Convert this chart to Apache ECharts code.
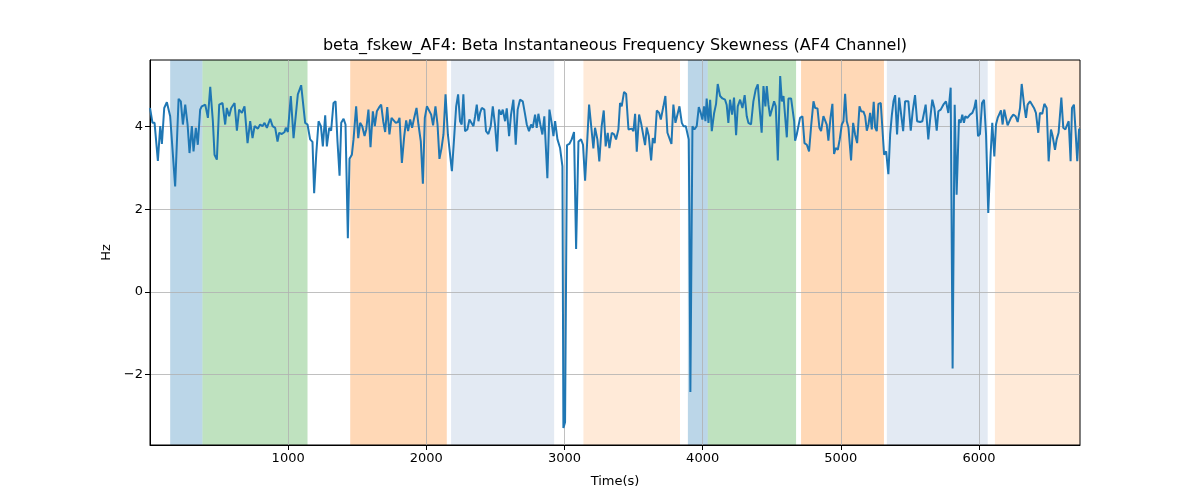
<!DOCTYPE html>
<html>
<head>
<meta charset="utf-8">
<script src="https://cdn.jsdelivr.net/npm/echarts@6/dist/echarts.min.js"></script>
<style>html,body{margin:0;padding:0;background:#fff}#c{width:1200px;height:500px}</style>
</head>
<body>
<div id="c"></div>
<script>
const chartTitle = 'beta_fskew_AF4: Beta Instantaneous Frequency Skewness (AF4 Channel)';
const xLabel = 'Time(s)';
const yLabel = 'Hz';
const xTicks = [1000, 2000, 3000, 4000, 5000, 6000];
const yTicks = [-2, 0, 2, 4];

const timeS = [
  0,18,33,57,74,86,103,122,146,182,
  207,223,238,255,272,286,303,315,332,346,
  363,375,400,419,436,455,467,484,501,525,
  544,556,573,588,612,629,645,665,684,706,
  725,742,757,769,781,797,814,829,846,870,
  887,906,923,935,954,974,983,998,1019,1039,
  1070,1094,
  1123,1140,1159,1176,1188,1203,1220,1237,1251,1268,
  1280,1297,1311,1328,1343,1357,1372,1384,1401,1415,
  1432,1444,1461,1473,1492,1507,1521,1536,1553,1565,
  1581,1596,1613,1627,1642,1659,1673,1688,1702,1717,
  1733,1748,1762,1779,1794,1806,1823,1840,1854,1868,
  1883,1897,1912,1929,1943,1960,1975,1989,2004,2018,
  2035,2049,2066,2081,2095,2110,2124,2139,2156,2170,
  2185,2201,2216,2230,
  2244,2256,2268,2280,2297,2312,2324,2341,2353,2365,
  2377,2389,2401,2420,2432,2449,2466,2481,2497,2512,
  2526,2541,2553,2570,2582,2599,2613,2630,2647,2661,
  2678,2698,2715,2727,2743,2758,2770,2787,2799,2811,
  2825,2840,2854,2876,2891,2907,2920,2932,2949,2968,
  2985,2992,3004,3018,3035,3052,3069,3084,3101,3120,
  3134,3149,3163,3178,3192,3209,3221,3238,3252,3269,
  3284,3298,3313,3325,3342,3359,
  3373,3390,3402,3414,3431,3446,3463,3475,3487,3499,
  3511,3523,3540,3554,3566,3583,3595,3610,3627,3639,
  3653,3668,3685,3697,3716,3730,3745,3759,3774,3788,
  3803,3817,3832,3849,3861,3878,3890,3899,3904,3911,
  3926,3940,3957,3972,3986,3998,4010,4020,4029,4042,
  4054,4066,4083,4097,4109,4126,4143,4162,4174,4186,
  4198,4213,4227,4242,4254,4271,4288,4304,4319,4331,
  4350,4367,4384,4399,4411,4427,4440,4454,4464,
  4476,4488,4500,4517,4529,4544,4561,4573,4585,4597,
  4609,4621,4640,4650,4662,4669,4681,4693,4705,4722,
  4737,4754,4770,4785,4802,4814,4831,4845,4857,4874,
  4886,4898,4910,4925,4939,4951,4963,4978,4992,5007,
  5019,5031,5043,5055,5074,5089,5103,5118,5135,5147,
  5164,5176,5188,5200,5212,5224,5238,5248,5260,5272,
  5289,5301,5313,5328,5344,5357,5369,5381,5393,5407,
  5422,5436,5451,5465,5477,5489,5506,5520,5537,5552,
  5574,5590,5604,
  5614,5633,5645,5662,5677,5694,5706,5723,5742,5761,
  5778,5795,5809,5824,5838,5855,5867,5879,5891,5901,
  5916,5935,5952,5966,5978,5993,6007,6022,6036,6051,
  6067,6084,6096,6111,6123,6135,6147,6159,6171,6183,
  6195,6207,6219,6231,6248,6265,6280,6297,6309,6326,
  6340,6352,6369,6381,6398,6412,6429,6441,6458,6473,
  6490,6504,6521,6533,6550,6562,6576,6596,6610,6625,
  6637,6649,6663,6673,6687,6699,6711,6724,6731
];

const skewHz = [
  4.45,4.09,4.09,3.17,4.01,3.58,4.45,4.59,4.25,2.55,
  4.67,4.61,4.05,4.53,4.05,3.36,4.01,3.40,3.97,3.56,
  4.41,4.49,4.53,4.21,4.96,4.13,3.32,3.20,4.53,4.57,
  4.05,4.45,4.25,4.45,4.57,3.90,4.41,4.33,4.49,3.60,
  4.13,3.72,4.01,4.05,3.95,4.05,4.01,4.09,3.97,4.19,
  4.01,3.97,3.64,3.85,3.82,3.87,3.97,3.87,4.74,3.72,
  4.78,5.00,
  4.09,4.05,3.69,3.63,2.39,3.32,4.13,4.01,3.52,4.27,
  3.52,3.97,3.90,4.57,4.61,3.64,2.81,4.09,4.19,4.05,
  1.30,3.22,3.32,3.69,4.49,3.72,4.09,4.01,3.77,3.93,
  4.41,3.50,4.37,4.01,4.37,4.47,4.53,4.13,3.87,4.47,
  3.81,4.21,4.19,4.09,4.11,4.21,3.12,3.77,4.15,3.89,
  4.17,3.97,4.21,4.45,4.05,3.64,2.62,4.21,4.49,4.47,
  4.29,4.03,4.49,4.05,3.22,3.48,3.81,4.78,3.81,3.82,
  2.92,3.72,4.49,4.78,
  4.13,4.05,4.78,3.89,3.93,4.17,4.13,4.01,4.25,4.53,
  4.13,4.33,4.45,4.41,3.89,3.82,4.01,4.49,4.05,3.40,
  4.41,4.29,4.41,4.13,4.44,3.77,4.29,4.65,3.56,4.41,
  4.65,4.61,4.29,4.05,3.89,4.05,3.97,4.29,3.97,4.31,
  4.05,3.81,4.25,2.75,4.41,4.09,3.77,4.13,3.69,3.48,
  3.04,-3.29,-3.15,3.55,3.58,3.69,3.87,1.04,3.64,3.69,
  3.56,2.69,3.56,4.53,4.53,3.47,3.97,3.69,3.16,4.01,
  4.39,3.52,3.85,3.48,3.85,3.81,
  3.69,3.93,4.57,4.49,4.84,4.79,3.93,3.89,3.95,3.89,
  4.31,3.39,4.29,4.09,4.06,3.55,3.98,3.77,3.18,3.72,
  3.60,4.39,4.33,4.17,4.49,4.74,3.85,3.81,3.58,4.53,
  4.09,4.13,4.49,4.09,4.01,4.01,3.98,3.69,1.87,-2.42,
  4.01,3.93,4.01,4.47,4.33,4.17,4.49,4.13,4.68,4.09,
  4.65,3.89,4.33,4.55,5.03,4.74,4.68,4.65,4.52,4.09,
  4.65,4.29,4.70,3.79,4.49,4.65,4.45,4.76,4.25,4.09,
  4.05,4.61,4.90,5.02,4.49,3.85,4.98,4.49,4.98,
  4.53,4.25,4.29,4.61,4.49,3.18,5.22,4.61,4.74,4.70,
  3.74,4.68,4.68,4.65,4.13,3.66,3.81,3.77,4.21,4.25,
  3.60,3.56,3.40,4.01,4.61,4.45,4.44,3.97,3.89,4.25,
  4.27,4.05,3.66,4.21,4.55,3.34,3.48,3.44,3.69,4.05,
  4.13,4.79,4.13,3.98,3.18,4.09,3.81,3.60,4.49,4.37,
  4.36,4.25,3.90,4.05,4.33,3.93,4.60,3.98,3.89,4.55,
  4.57,4.55,3.32,3.40,2.85,3.81,4.27,4.61,4.76,3.81,
  4.70,4.68,3.89,4.61,4.65,4.61,3.90,4.37,4.76,4.13,
  4.11,4.13,4.12,
  4.53,3.69,4.13,4.65,4.45,3.90,4.37,4.41,4.53,4.61,
  4.33,4.94,-1.85,4.53,2.35,4.17,4.09,4.29,4.09,4.25,
  4.21,4.29,4.33,4.45,4.65,3.77,3.82,4.57,4.65,3.81,
  1.91,3.32,4.09,3.28,4.05,4.21,4.17,4.39,4.05,4.41,
  4.45,4.03,4.05,4.21,4.29,4.25,4.11,4.45,5.03,4.53,
  4.21,4.53,4.61,4.65,4.45,4.33,3.85,4.33,4.31,4.55,
  4.45,3.16,3.93,3.77,3.44,3.69,3.85,4.70,3.97,3.93,
  3.97,4.13,3.16,4.45,4.53,3.89,3.16,3.93,3.95
];

const spanStart = [146, 380, 1449, 2179, 3137, 3893, 4037, 4712, 5333, 6115];
const spanEnd   = [380, 1140, 2148, 2925, 3836, 4037, 4676, 5312, 6063, 6731];
const spanKind  = ['blue', 'green', 'orange', 'steel', 'peach', 'blue', 'green', 'orange', 'steel', 'peach'];

const spanColors = {
  blue: 'rgba(31,119,180,0.3)',
  green: 'rgba(44,160,44,0.3)',
  orange: 'rgba(255,127,14,0.3)',
  steel: 'rgba(176,196,222,0.35)',
  peach: 'rgba(255,127,14,0.16)'
};

const lineData = timeS.map((t, i) => [t, skewHz[i]]);
const areaData = spanStart.map((s, i) => [
  { xAxis: s, itemStyle: { color: spanColors[spanKind[i]] } },
  { xAxis: spanEnd[i] }
]);

const font = 'DejaVu Sans';
const fmtMinus = v => (v < 0 ? '\u2212' + Math.abs(v) : String(v));

const chart = echarts.init(document.getElementById('c'), null, { renderer: 'canvas' });
chart.setOption({
  animation: false,
  backgroundColor: '#fff',
  graphic: [{
    type: 'text', x: 615, y: 46,
    style: { text: chartTitle, fill: '#000', font: '16px "DejaVu Sans"', textAlign: 'center', textVerticalAlign: 'middle' }
  }],
  grid: { left: 150, right: 120, top: 60, bottom: 55, show: true, borderColor: '#000', borderWidth: 1, backgroundColor: 'transparent' },
  xAxis: {
    type: 'value', min: 0, max: 6731, interval: 1000,
    name: xLabel, nameLocation: 'middle', nameGap: 30,
    nameTextStyle: { color: '#000', fontSize: 13, fontFamily: font },
    axisLine: { show: true, onZero: false, lineStyle: { color: '#000', width: 1 } },
    axisTick: { show: true, length: 5, customValues: xTicks, lineStyle: { color: '#000' } },
    axisLabel: { color: '#000', fontSize: 13, fontFamily: font, margin: 7, customValues: xTicks, formatter: v => String(v) },
    splitLine: { show: true, lineStyle: { color: '#b0b0b0', width: 0.8 } }
  },
  yAxis: {
    type: 'value', min: -3.70, max: 5.61,
    name: yLabel, nameLocation: 'middle', nameGap: 35, nameRotate: 90,
    nameTextStyle: { color: '#000', fontSize: 13, fontFamily: font },
    axisLine: { show: true, lineStyle: { color: '#000', width: 1 } },
    axisTick: { show: true, length: 5, customValues: yTicks, lineStyle: { color: '#000' } },
    axisLabel: { color: '#000', fontSize: 13, fontFamily: font, margin: 7, customValues: yTicks, formatter: fmtMinus },
    splitLine: { show: true, lineStyle: { color: '#b0b0b0', width: 0.8 } }
  },
  series: [{
    type: 'line',
    data: [],
    z: -5,
    silent: true,
    markArea: { silent: true, z: -5, data: areaData }
  }, {
    type: 'line',
    data: lineData,
    showSymbol: false,
    symbol: 'none',
    lineStyle: { color: '#1f77b4', width: 2 },
    itemStyle: { color: '#1f77b4' },
    z: 3
  }]
});
</script>
</body>
</html>
